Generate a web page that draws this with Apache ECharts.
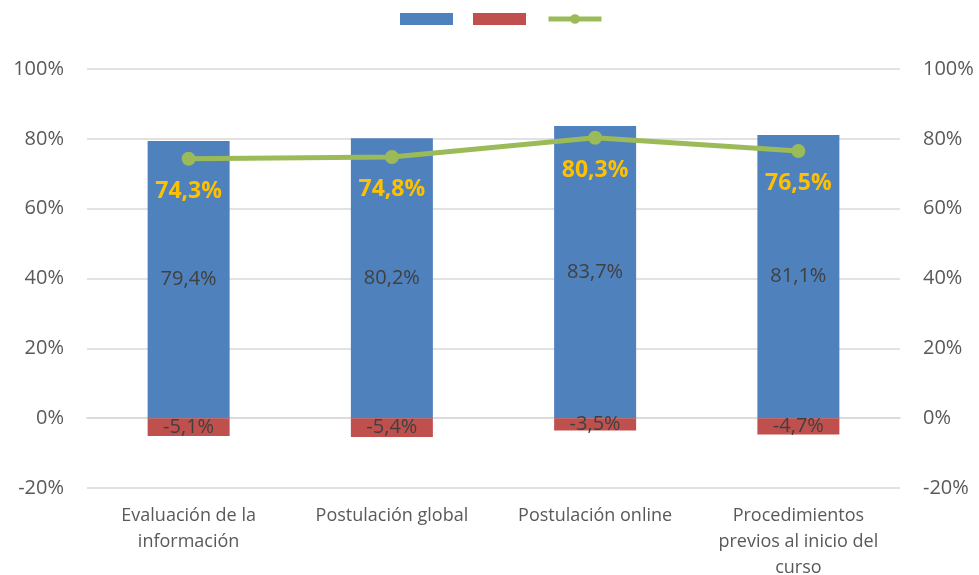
<!DOCTYPE html>
<html>
<head>
<meta charset="utf-8">
<script src="https://cdn.jsdelivr.net/npm/echarts@6/dist/echarts.min.js"></script>
<style>
  html, body { margin: 0; padding: 0; background: #fff; }
  #chart { width: 979px; height: 575px; }
</style>
</head>
<body>
<div id="chart"></div>
<script>
const categories = [
  "Evaluación de la\ninformación",
  "Postulación global",
  "Postulación online",
  "Procedimientos\nprevios al inicio del\ncurso",
];
const positivos = [79.4, 80.2, 83.7, 81.1];
const negativos = [-5.1, -5.4, -3.5, -4.7];
const neto = [74.3, 74.8, 80.3, 76.5];
const axisTicks = [-20, 0, 20, 40, 60, 80, 100];

const fmt = (v) => v.toFixed(1).replace(".", ",") + "%";
const font = "'Open Sans', 'Liberation Sans', sans-serif";

const chart = echarts.init(document.getElementById("chart"));

const yAxisBase = {
  type: "value",
  min: axisTicks[0],
  max: axisTicks[axisTicks.length - 1],
  interval: 20,
  axisLine: { show: false },
  axisTick: { show: false },
  axisLabel: {
    color: "#595959",
    fontSize: 20,
    fontFamily: font,
    margin: 23,
    formatter: (v) => v + "%",
  },
  splitLine: { lineStyle: { color: "#D9D9D9", width: 1.5 } },
};

chart.setOption({
  backgroundColor: "#fff",
  animation: false,
  legend: {
    top: 8,
    left: 395,
    itemWidth: 53,
    itemHeight: 12,
    itemGap: 20,
    formatter: () => "",
    data: [
      { name: "Positivo", icon: "rect" },
      { name: "Negativo", icon: "rect" },
      { name: "Neto", lineStyle: { width: 5 } },
    ],
  },
  grid: { left: 87, right: 79, top: 69, bottom: 87, outerBoundsMode: "none" },
  xAxis: {
    type: "category",
    data: categories,
    axisLine: { lineStyle: { color: "#D9D9D9", width: 1.5 } },
    axisTick: { show: false },
    axisLabel: {
      color: "#595959",
      fontSize: 18,
      fontFamily: font,
      lineHeight: 26,
      margin: 15,
      interval: 0,
    },
  },
  yAxis: [
    yAxisBase,
    Object.assign({}, yAxisBase, { position: "right", splitLine: { show: false } }),
  ],
  series: [
    {
      name: "Positivo",
      type: "bar",
      stack: "s",
      barWidth: 82,
      data: positivos,
      itemStyle: { color: "#4F81BD" },
      label: {
        show: true,
        position: "inside",
        color: "#404040",
        fontSize: 20,
        fontFamily: font,
        formatter: (p) => fmt(p.value),
      },
    },
    {
      name: "Negativo",
      type: "bar",
      stack: "s",
      barWidth: 82,
      data: negativos,
      itemStyle: { color: "#C0504D" },
      label: {
        show: true,
        position: "inside",
        color: "#404040",
        fontSize: 20,
        fontFamily: font,
        formatter: (p) => fmt(p.value),
      },
    },
    {
      name: "Neto",
      type: "line",
      data: neto,
      z: 5,
      symbol: "circle",
      symbolSize: 14,
      lineStyle: { color: "#9BBB59", width: 5 },
      itemStyle: { color: "#9BBB59" },
      label: {
        show: true,
        position: "bottom",
        distance: 14,
        color: "#FFC000",
        fontSize: 23,
        fontWeight: "bold",
        fontFamily: font,
        formatter: (p) => fmt(p.value),
      },
    },
  ],
});
</script>
</body>
</html>
